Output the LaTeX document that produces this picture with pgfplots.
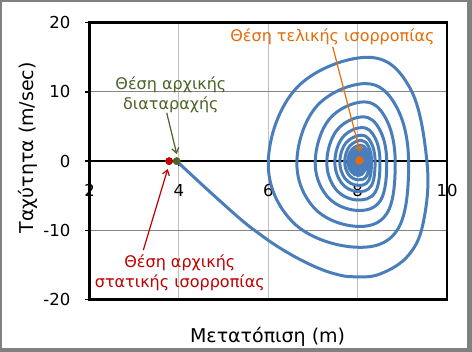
\documentclass[border=0pt]{standalone}
\usepackage{pgfplots}
\pgfplotsset{compat=1.18}
\usepackage{fontspec}
\setmainfont{DejaVu Sans}
\usetikzlibrary{arrows.meta}
\definecolor{sblue}{RGB}{74,126,187}
\definecolor{sred}{RGB}{192,0,0}
\definecolor{sgreen}{RGB}{79,98,40}
\definecolor{sorange}{RGB}{228,108,10}
\definecolor{frame}{RGB}{128,128,128}
\begin{document}
\begin{tikzpicture}
\path[use as bounding box] (0,0) rectangle (472bp,352bp);
\fill[frame] (0,0) rectangle (472bp,352bp);
\fill[white] (2bp,4bp) rectangle (467bp,350bp);
\begin{axis}[
  at={(89.6bp,52.4bp)}, anchor=south west,
  scale only axis, width=357.4bp, height=276.9bp,
  xmin=2, xmax=10, ymin=-20, ymax=20,
  xtick={2,4,6,8,10}, ytick={-20,-10,0,10,20},
  axis line style={line width=2.5bp, black},
  ytick pos=left, tick align=outside, major tick length=5bp,
  ytick style={line width=1.5bp, black},
  xtick style={draw=none},
  xmajorgrids, ymajorgrids,
  x grid style={line width=1bp, color=black!25},
  y grid style={line width=1bp, color=black!48},
  /pgf/number format/assume math mode=true,
  tick label style={font=\fontsize{16.5bp}{19bp}\selectfont, black},
  xticklabel style={anchor=north, inner sep=0pt, yshift=120.6bp},
  yticklabel style={anchor=east, inner sep=0pt, xshift=-14bp},
  xlabel={Μετατόπιση (m)},
  label style={font=\fontsize{19bp}{22bp}\selectfont},
  xlabel style={at={(axis description cs:0.498,-0.1557)}, anchor=base},
  clip=false,
]
\draw[line width=2.5bp] (axis cs:2,0) -- (axis cs:10,0);
\draw[line width=1.5bp] (axis cs:2,0) -- ([yshift=-5bp]axis cs:2,0);
\draw[line width=1.5bp] (axis cs:4,0) -- ([yshift=-5bp]axis cs:4,0);
\draw[line width=1.5bp] (axis cs:6,0) -- ([yshift=-5bp]axis cs:6,0);
\draw[line width=1.5bp] (axis cs:8,0) -- ([yshift=-5bp]axis cs:8,0);
\draw[line width=1.5bp] (axis cs:10,0) -- ([yshift=-5bp]axis cs:10,0);
\addplot[sblue, line width=3bp, smooth, tension=0.65] coordinates {
(3.95,0) (4.67,-4.3) (5.4,-8.5) (5.8,-10.5) (6.2,-12.3) (6.65,-14.0) (7.1,-15.4) (7.5,-16.3) (7.9,-16.7)
(8.5,-16.3) (9.15,-13.5) (9.48,-8.5) (9.55,0) (9.164,10.65) (8.22,15.0) (6.644,10.65) (6.0,0) (6.548,-8.80)
(7.89,-12.4) (8.89,-9.92) (9.14,0) (8.86,7.95) (8.174,11.2) (7.085,7.95) (6.64,0) (7.014,-6.67)
(7.93,-9.4) (8.658,-7.52) (8.84,0) (8.638,6.08) (8.143,8.56) (7.367,6.08) (7.05,0) (7.312,-5.04)
(7.955,-7.1) (8.511,-5.68) (8.65,0) (8.495,4.54) (8.117,6.4) (7.544,4.54) (7.31,0) (7.501,-3.98)
(7.97,-5.6) (8.394,-4.48) (8.50,0) (8.383,3.45) (8.098,4.86) (7.666,3.45) (7.49,0) (7.634,-3.12)
(7.987,-4.4) (8.309,-3.52) (8.39,0) (8.302,2.66) (8.085,3.75) (7.741,2.66) (7.60,0) (7.715,-2.49)
(7.998,-3.5) (8.248,-2.8) (8.31,0) (8.242,2.13) (8.076,3.0) (7.816,2.13) (7.71,0) (7.796,-1.92)
(8.008,-2.7) (8.2,-2.16) (8.248,0) (8.196,1.64) (8.068,2.31) (7.868,1.64) (7.786,0) (7.852,-1.48)
(8.015,-2.08) (8.146,-1.48) (8.20,0) (8.16,1.26) (8.061,1.78) (7.907,1.26) (7.844,0) (7.895,-1.14)
(8.021,-1.6) (8.122,-1.14) (8.163,0) (8.132,0.97) (8.056,1.37) (7.937,0.97) (7.889,0) (7.928,-0.87)
(8.025,-1.23) (8.103,-0.87) (8.135,0) (8.111,0.75) (8.053,1.05) (7.961,0.75) (7.924,0) (7.954,-0.67)
(8.029,-0.95) (8.089,-0.67) (8.113,0) (8.095,0.58) (8.05,0.81) (7.98,0.58) (7.951,0) (7.974,-0.52)
(8.031,-0.73) (8.077,-0.52) (8.096,0) (8.082,0.44) (8.047,0.62) (7.993,0.44) (7.971,0) (7.989,-0.40)
(8.033,-0.56) (8.068,-0.40) (8.083,0) (8.072,0.34) (8.046,0.48) (8.004,0.34) (7.987,0) (8.001,-0.31)
(8.035,-0.43) (8.061,-0.31) (8.073,0) (8.065,0.26) (8.044,0.37) (8.012,0.26) (7.999,0) (8.01,-0.23)
(8.036,-0.33) (8.066,0) (8.043,0.28) (8.009,0) (8.04,0)
};
\addplot[only marks, mark=*, mark size=3.7bp, sred] coordinates {(3.78,0)};
\addplot[only marks, mark=*, mark size=3.7bp, sgreen] coordinates {(3.95,0)};
\addplot[only marks, mark=*, mark size=4bp, sorange] coordinates {(8.04,0.1)};
\node[sgreen, align=center, font=\fontsize{16bp}{20bp}\selectfont] at (axis cs:3.82,9.55) {Θέση αρχικής\\διαταραχής};
\draw[sgreen, line width=1.2bp, -{Straight Barb[length=5bp,width=7bp]}] (axis cs:3.726,6.99) -- (axis cs:3.95,1.03);
\node[sred, align=center, font=\fontsize{16bp}{20bp}\selectfont] at (axis cs:4.02,-16.14) {Θέση αρχικής\\στατικής ισορροπίας};
\draw[sred, line width=1.2bp, -{Straight Barb[length=5bp,width=7bp]}] (axis cs:3.202,-12.86) -- (axis cs:3.748,-1.14);
\node[sorange, font=\fontsize{16bp}{20bp}\selectfont] at (axis cs:7.437,18.0) {Θέση τελικής ισορροπίας};
\draw[sorange, line width=1.2bp, -{Straight Barb[length=5bp,width=7bp]}] (axis cs:7.442,16.52) -- (axis cs:8.053,1.36);
\end{axis}
\node[rotate=90, anchor=base east, inner sep=0pt, font=\fontsize{19bp}{22bp}\selectfont] at (33bp,290bp) {Ταχύτητα (m/sec)};
\end{tikzpicture}
\end{document}
